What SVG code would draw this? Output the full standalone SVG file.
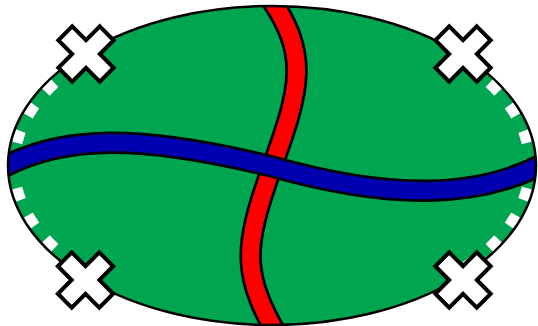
<svg xmlns="http://www.w3.org/2000/svg" xmlns:xlink="http://www.w3.org/1999/xlink" width="538" height="326" viewBox="0 0 538 326">
  <style>
    .field { fill: #00A550; }
    .outline { fill: none; stroke: #000; stroke-width: 2.5; }
    .dash { fill: none; stroke: #fff; stroke-width: 23; stroke-dasharray: 13 18; stroke-dashoffset: 6.5; }
    .road-edge { fill: none; stroke: #000; stroke-width: 22.5; }
    .road-red { fill: none; stroke: #FF0000; stroke-width: 17; }
    .road-blue { fill: none; stroke: #0000B0; stroke-width: 17; }
    .mark { fill: #fff; stroke: #000; stroke-width: 4; stroke-linejoin: miter; }
  </style>
  <defs>
    <clipPath id="inside">
      <ellipse cx="272" cy="165.5" rx="264" ry="159.5"/>
    </clipPath>
    <polygon id="x" class="mark" points="-9.8,-29.3 9.8,-29.3 9.8,-9.8 29.3,-9.8 29.3,9.8 9.8,9.8 9.8,29.3 -9.8,29.3 -9.8,9.8 -29.3,9.8 -29.3,-9.8 -9.8,-9.8"/>
  </defs>

  <g id="field">
    <ellipse class="field" cx="272" cy="165.5" rx="264" ry="159.5"/>
  </g>

  <g id="border" clip-path="url(#inside)">
    <path class="dash" d="M 8,165.5 A 264 159.5 0 0 1 85.3,52.7"/>
    <path class="dash" d="M 8,165.5 A 264 159.5 0 0 0 85.3,278.3"/>
    <path class="dash" d="M 536,165.5 A 264 159.5 0 0 0 458.7,52.7"/>
    <path class="dash" d="M 536,165.5 A 264 159.5 0 0 1 458.7,278.3"/>
  </g>

  <g id="connectors" clip-path="url(#inside)">
    <g id="red-road">
      <path class="road-edge" d="M 268,-5 C 310,55 301,87 271,170 C 243,250 241,275 283,345"/>
      <path class="road-red" d="M 268,-5 C 310,55 301,87 271,170 C 243,250 241,275 283,345"/>
    </g>
    <g id="blue-road">
      <path class="road-edge" d="M -10,175 C 60,130 150,137 270,166 C 390,200 480,200 550,160"/>
      <path class="road-blue" d="M -10,175 C 60,130 150,137 270,166 C 390,200 480,200 550,160"/>
    </g>
  </g>

  <g id="field-outline">
    <ellipse class="outline" cx="272" cy="165.5" rx="264" ry="159.5"/>
  </g>

  <g id="marker-tl"><use xlink:href="#x" href="#x" transform="translate(86,54) rotate(45)"/></g>
  <g id="marker-tr"><use xlink:href="#x" href="#x" transform="translate(463,54) rotate(45)"/></g>
  <g id="marker-bl"><use xlink:href="#x" href="#x" transform="translate(85.5,280) rotate(45)"/></g>
  <g id="marker-br"><use xlink:href="#x" href="#x" transform="translate(463,280) rotate(45)"/></g>
</svg>
